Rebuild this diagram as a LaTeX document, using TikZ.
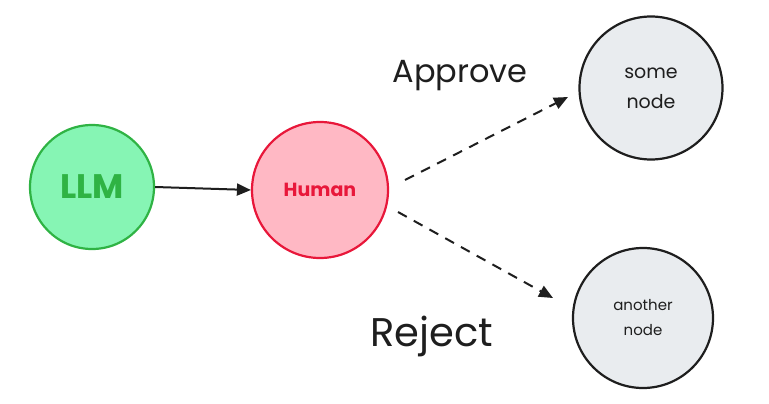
\documentclass[tikz,border=0pt]{standalone}
\usepackage{fontspec}
\setmainfont{Poppins}
\usetikzlibrary{arrows.meta}
\definecolor{gfill}{HTML}{86F5B4}
\definecolor{gline}{HTML}{2FB344}
\definecolor{pfill}{HTML}{FFB8C4}
\definecolor{pline}{HTML}{E8173A}
\definecolor{nfill}{HTML}{E9ECEF}
\definecolor{ink}{HTML}{1E1E1E}
\begin{document}
\begin{tikzpicture}[x=1pt,y=-1pt,
  circ/.style={circle,line width=2.2pt,inner sep=0pt},
  arr/.style={-{Triangle[length=14pt,width=12pt]},line width=2pt,draw=ink},
  lbl/.style={text=ink}]
\useasboundingbox[fill=white] (0,0) rectangle (769,404);
\node[circ,draw=gline,fill=gfill,minimum size=124pt,text=gline,font=\fontsize{34}{38}\selectfont\bfseries] (llm) at (92,187) {LLM};
\node[circ,draw=pline,fill=pfill,minimum size=136pt,text=pline,font=\fontsize{19}{22}\selectfont\bfseries] (human) at (320,190) {Human};
\node[circ,draw=ink,fill=nfill,minimum size=143pt,text=ink,align=center,font=\fontsize{19}{30}\selectfont] (some) at (651,88) {some\\node};
\node[circ,draw=ink,fill=nfill,minimum size=140pt,text=ink,align=center,font=\fontsize{15}{25}\selectfont] (another) at (643,318) {another\\node};
\coordinate (a1) at (405,180);
\coordinate (a2) at (568,97);
\coordinate (b1) at (398,212);
\coordinate (b2) at (553,298);
\draw[arr] (llm.east) -- (human.west);
\draw[arr,dash pattern=on 10pt off 8pt] (a1) -- (a2);
\draw[arr,dash pattern=on 10pt off 8pt] (b1) -- (b2);
\node[lbl,font=\fontsize{32}{36}\selectfont] (appr) at (460,76) {Approve};
\node[lbl,font=\fontsize{40}{44}\selectfont] (rej) at (432,336) {Reject};
\end{tikzpicture}
\end{document}
